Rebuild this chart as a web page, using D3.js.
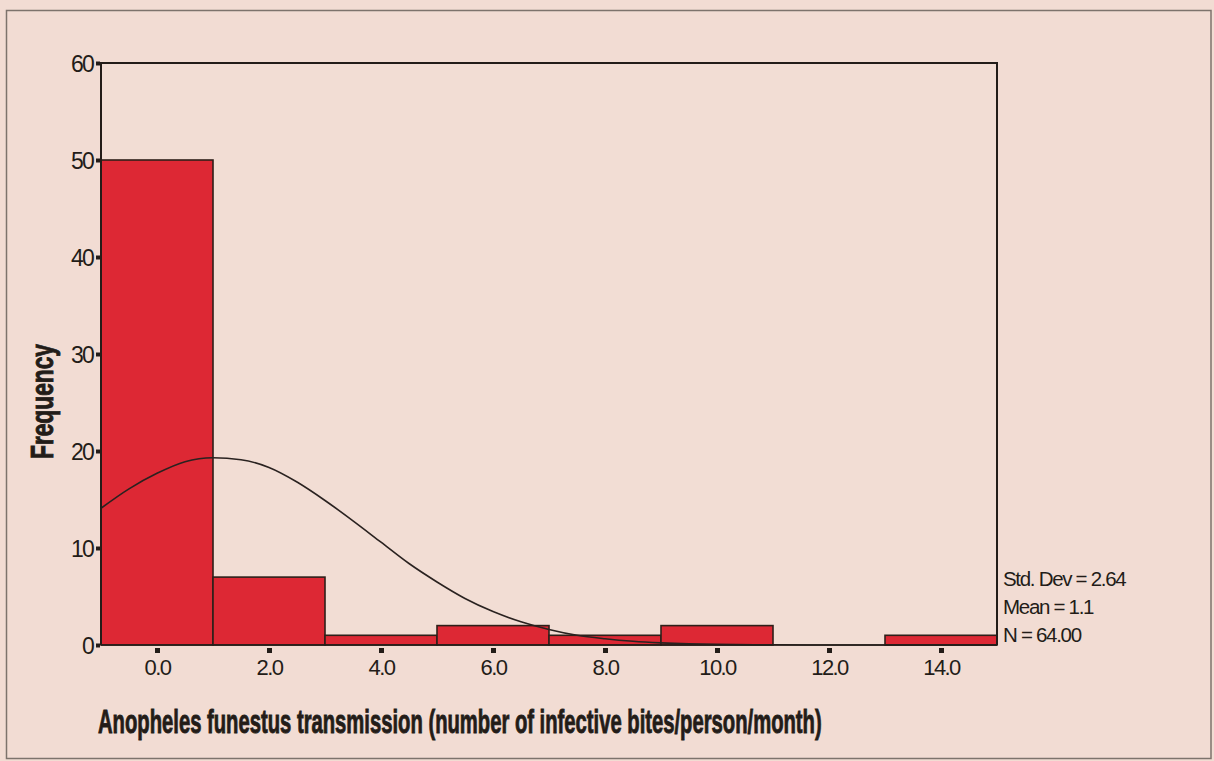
<!DOCTYPE html>
<html>
<head>
<meta charset="utf-8">
<script src="https://cdn.jsdelivr.net/npm/d3@7"></script>
<style>
  html, body { margin: 0; padding: 0; background: #f2dcd3; }
  svg { display: block; }
  text { font-family: "Liberation Sans Narrow", "Liberation Sans", Arial, sans-serif; fill: #231c18; }
</style>
</head>
<body>
<svg id="chart" width="1214" height="761"></svg>
<script>
// ---- data ----
const binCenters = [0, 2, 4, 6, 8, 10, 12, 14];
const frequencies = [50, 7, 1, 2, 1, 2, 0, 1];
const binWidth = 2;
const xTickValues = [0, 2, 4, 6, 8, 10, 12, 14];
const xTickLabels = ["0.0", "2.0", "4.0", "6.0", "8.0", "10.0", "12.0", "14.0"];
const yTickValues = [0, 10, 20, 30, 40, 50, 60];
// normal curve
const curveX = [-1, -0.5, 0, 0.5, 1, 1.5, 2, 2.5, 3, 3.5, 4, 4.5, 5, 5.5, 6, 6.5, 7, 7.5, 8, 8.5, 9, 9.5, 10, 11, 12, 13, 14, 15];
const curveY = [14.1, 16.1, 17.7, 18.9, 19.3, 19.1, 18.3, 16.8, 14.9, 12.8, 10.6, 8.4, 6.5, 4.8, 3.45, 2.4, 1.6, 1.0, 0.64, 0.38, 0.22, 0.12, 0.07, 0.02, 0.0, 0.0, 0.0, 0.0];
const statsLines = ["Std. Dev = 2.64", "Mean = 1.1", "N = 64.00"];
const xTitle = "Anopheles funestus transmission (number of infective bites/person/month)";
const yTitle = "Frequency";

// ---- layout ----
const svg = d3.select("#chart");
const pL = 101, pR = 997, pT = 63, pB = 645;
const x = d3.scaleLinear().domain([-1, 15]).range([pL, pR]);
const y = d3.scaleLinear().domain([0, 60]).range([pB, pT]);
const ink = "#231c18";

// outer frame
svg.append("rect").attr("x", 6.5).attr("y", 10.5).attr("width", 1204.5).attr("height", 748)
  .attr("fill", "#f2dcd3").attr("stroke", "#7d736c").attr("stroke-width", 1.5);

// plot interior
svg.append("rect").attr("x", pL).attr("y", pT).attr("width", pR - pL).attr("height", pB - pT)
  .attr("fill", "#f2ddd4");

// bars
svg.append("g").selectAll("rect").data(binCenters.map((c, i) => ({c, f: frequencies[i]})).filter(d => d.f > 0))
  .join("rect")
  .attr("x", d => x(d.c - binWidth / 2))
  .attr("width", d => x(d.c + binWidth / 2) - x(d.c - binWidth / 2))
  .attr("y", d => y(d.f))
  .attr("height", d => y(0) - y(d.f))
  .attr("fill", "#dd2834")
  .attr("stroke", "#2e201a")
  .attr("stroke-width", 1.6);

// normal curve
const line = d3.line().x(d => x(d[0])).y(d => y(d[1])).curve(d3.curveMonotoneX);
svg.append("path").datum(curveX.map((v, i) => [v, curveY[i]]))
  .attr("d", line).attr("fill", "none").attr("stroke", "#2a2220").attr("stroke-width", 1.6);

// plot frame (left, top, right) + bottom axis line
svg.append("path")
  .attr("d", `M${pL},${pB} V${pT} H${pR} V${pB}`)
  .attr("fill", "none").attr("stroke", ink).attr("stroke-width", 2);
svg.append("line").attr("x1", pL).attr("x2", pR).attr("y1", pB).attr("y2", pB)
  .attr("stroke", ink).attr("stroke-width", 1.6);

// y axis
const yAxis = d3.axisLeft(y).tickValues(yTickValues).tickFormat(d3.format("d")).tickSize(4).tickPadding(3);
const gy = svg.append("g").attr("transform", `translate(${pL - 1},0)`).call(yAxis);
gy.select(".domain").remove();
gy.selectAll(".tick line").attr("stroke", ink).attr("stroke-width", 4);
gy.selectAll(".tick text").attr("font-size", 23).attr("letter-spacing", -1.8).attr("fill", ink)
  .attr("dy", "0.36em").style("font-family", '"Liberation Sans", Arial, sans-serif');

// x axis
const xAxis = d3.axisBottom(x).tickValues(xTickValues).tickFormat((d, i) => xTickLabels[i]).tickSize(0).tickPadding(11);
const gx = svg.append("g").attr("transform", `translate(0,${pB})`).call(xAxis);
gx.select(".domain").remove();
gx.selectAll(".tick").append("rect").attr("x", -2.5).attr("y", 3).attr("width", 5).attr("height", 5).attr("fill", ink);
gx.selectAll(".tick text").attr("font-size", 22).attr("letter-spacing", -1.6).attr("fill", ink)
  .attr("dy", "0.85em").style("font-family", '"Liberation Sans", Arial, sans-serif');

// stats text
svg.append("g").selectAll("text").data(statsLines).join("text")
  .attr("x", 1003).attr("y", (d, i) => 586 + i * 28)
  .attr("font-size", 20.5).attr("letter-spacing", -1.3)
  .style("font-family", '"Liberation Sans", Arial, sans-serif')
  .text(d => d);

// axis titles (condensed horizontally with a scale transform to fit target width)
function condensed(g, str, size, targetW) {
  const t = g.append("text").attr("x", 0).attr("y", 0)
    .attr("font-size", size).attr("font-weight", "bold")
    .attr("stroke", ink).attr("stroke-width", 0.9)
    .text(str);
  const w = t.node().getComputedTextLength();
  t.attr("transform", `scale(${targetW / w},1)`);
  return t;
}
const gxt = svg.append("g").attr("transform", "translate(98,733)");
condensed(gxt, xTitle, 33, 724);
const gyt = svg.append("g").attr("transform", "translate(53,459) rotate(-90)");
condensed(gyt, yTitle, 31, 115);
</script>
</body>
</html>
